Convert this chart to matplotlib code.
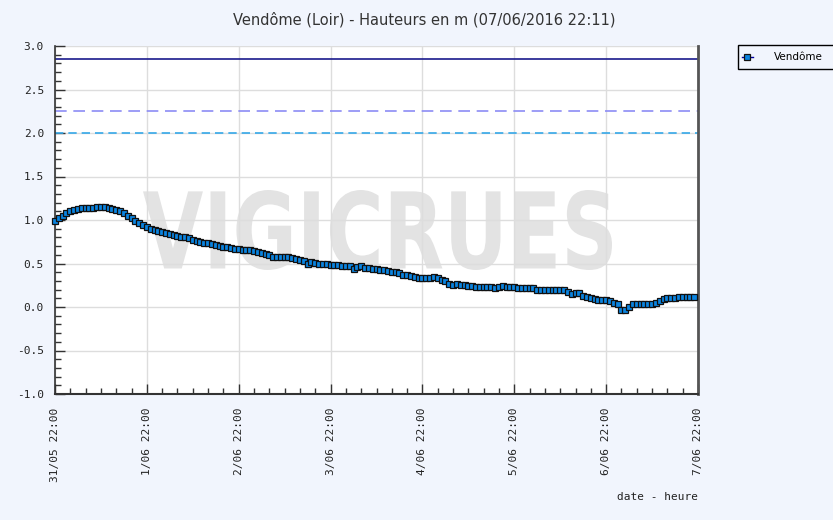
import matplotlib
matplotlib.use("Agg")
import matplotlib.pyplot as plt
import numpy as np
from matplotlib.textpath import TextPath
from matplotlib.patches import PathPatch, Rectangle
from matplotlib.font_manager import FontProperties
from matplotlib.transforms import Affine2D
from matplotlib.ticker import MultipleLocator, FixedLocator

# ---- data (hourly heights, m, starting 31/05 22:00) ----
heights = [
    0.99, 1.02, 1.05, 1.08, 1.10, 1.12, 1.13, 1.14, 1.14, 1.14,
    1.14, 1.15, 1.15, 1.15, 1.14, 1.13, 1.11, 1.10, 1.08, 1.05,
    1.02, 0.99, 0.96, 0.94, 0.92, 0.90, 0.88, 0.87, 0.86, 0.85,
    0.84, 0.83, 0.82, 0.81, 0.80, 0.79, 0.77, 0.76, 0.75, 0.74,
    0.73, 0.72, 0.71, 0.70, 0.69, 0.69, 0.68, 0.67, 0.67, 0.66,
    0.66, 0.65, 0.64, 0.63, 0.62, 0.61, 0.60, 0.58, 0.58, 0.58,
    0.57, 0.57, 0.56, 0.55, 0.54, 0.53, 0.50, 0.52, 0.51, 0.50,
    0.49, 0.49, 0.48, 0.48, 0.48, 0.47, 0.47, 0.47, 0.44, 0.46,
    0.47, 0.45, 0.45, 0.44, 0.44, 0.43, 0.42, 0.41, 0.40, 0.40,
    0.39, 0.37, 0.37, 0.36, 0.34, 0.33, 0.33, 0.33, 0.33, 0.34,
    0.33, 0.31, 0.30, 0.26, 0.25, 0.26, 0.25, 0.25, 0.24, 0.24,
    0.23, 0.23, 0.23, 0.23, 0.23, 0.22, 0.23, 0.24, 0.23, 0.23,
    0.23, 0.22, 0.22, 0.22, 0.22, 0.22, 0.20, 0.20, 0.20, 0.20,
    0.19, 0.19, 0.19, 0.19, 0.17, 0.15, 0.16, 0.16, 0.13, 0.12,
    0.10, 0.09, 0.08, 0.08, 0.08, 0.07, 0.05, 0.04, -0.03, -0.03,
    0.00, 0.03, 0.04, 0.04, 0.04, 0.04, 0.04, 0.05, 0.07, 0.09,
    0.10, 0.10, 0.10, 0.11, 0.12, 0.12, 0.12, 0.12,
]
hours = list(range(len(heights)))

thresholds = [2.85, 2.25, 2.0]
threshold_colors = ["#1a1a8c", "#8c8cf5", "#35a8e8"]

day_tick_labels = ["31/05 22:00", "1/06 22:00", "2/06 22:00", "3/06 22:00",
                   "4/06 22:00", "5/06 22:00", "6/06 22:00", "7/06 22:00"]
y_ticks = [-1.0, -0.5, 0.0, 0.5, 1.0, 1.5, 2.0, 2.5, 3.0]

title = "Vendôme (Loir) - Hauteurs en m (07/06/2016 22:11)"
series_name = "Vendôme"

# ---- figure ----
W, H = 833, 520
bg = "#f1f5fd"
fig = plt.figure(figsize=(W / 100, H / 100), dpi=100, facecolor=bg)
ax = fig.add_axes([55 / W, 1 - 394 / H, (698 - 55) / W, (394 - 46) / H])
ax.set_facecolor("white")

ax.set_xlim(0, 168)
ax.set_ylim(-1.0, 3.0)

# watermark
fp = FontProperties(family="DejaVu Sans", weight="bold")
tp = TextPath((0, 0), "VIGICRUES", size=100, prop=fp)
ext = tp.get_extents()
x0, x1, y0, y1 = 143 / W, 612 / W, 1 - 270 / H, 1 - 190 / H
sx = (x1 - x0) / ext.width
sy = (y1 - y0) / ext.height
tr = Affine2D().translate(-ext.x0, -ext.y0).scale(sx, sy).translate(x0, y0) + fig.transFigure
wm = PathPatch(tp, facecolor="#e3e3e3", edgecolor="none", transform=tr, zorder=0.2)
ax.add_patch(wm)

# grid
ax.set_axisbelow(True)
ax.grid(True, which="major", color="#dddddd", linewidth=1.0)

# thresholds
ax.axhline(thresholds[0], color=threshold_colors[0], lw=1.2, zorder=2)
ax.axhline(thresholds[1], color=threshold_colors[1], lw=1.2, ls=(0, (7, 4)), zorder=2)
ax.axhline(thresholds[2], color=threshold_colors[2], lw=1.2, ls=(0, (5, 3)), zorder=2)

# series
ax.plot(hours, heights, color="#0000a0", lw=1.0, marker="s", markersize=4.2,
        markerfacecolor="#0a84e0", markeredgecolor="#111111", markeredgewidth=0.9,
        zorder=3, label=series_name, clip_on=False)

# ticks
ax.xaxis.set_major_locator(FixedLocator([24 * i for i in range(8)]))
ax.xaxis.set_minor_locator(MultipleLocator(4))
ax.set_xticklabels(day_tick_labels, rotation=90, family="DejaVu Sans Mono",
                   fontsize=8, color="#222222")
ax.set_yticks(y_ticks)
ax.set_yticklabels([f"{v:.1f}" for v in y_ticks], family="DejaVu Sans Mono",
                   fontsize=8, color="#222222")
ax.yaxis.set_minor_locator(MultipleLocator(0.1))
ax.tick_params(axis="both", which="major", direction="in", length=7, width=1,
               color="#333333", pad=8)
ax.tick_params(axis="both", which="minor", direction="in", length=4, width=1,
               color="#333333")
ax.tick_params(axis="x", which="major", pad=10)

ax.spines["top"].set_visible(False)
ax.spines["left"].set_color("#333333")
ax.spines["bottom"].set_color("#333333")
ax.spines["right"].set_color("#555555")
ax.spines["right"].set_linewidth(2)
ax.spines["left"].set_linewidth(1.2)
ax.spines["bottom"].set_linewidth(1.5)

# title and axis label
fig.text(424 / W, 1 - 20 / H, title, ha="center", va="center",
         fontsize=10.5, color="#333333", family="DejaVu Sans")
fig.text(698 / W, 1 - 497 / H, "date - heure", ha="right", va="center",
         fontsize=8, color="#222222", family="DejaVu Sans Mono")

# legend box (runs off the right edge like the reference)
fig.patches.append(Rectangle((738 / W, 1 - 69 / H), 110 / W, 24 / H,
                             transform=fig.transFigure, facecolor=bg,
                             edgecolor="black", linewidth=1, zorder=1))
leg = fig.legend(loc="upper left", bbox_to_anchor=(737 / W, 1 - 47 / H),
                 bbox_transform=fig.transFigure, frameon=False,
                 fontsize=7.5, handlelength=1.0, handletextpad=2.0,
                 borderpad=0.5, borderaxespad=0, markerscale=0.9)
leg.set_zorder(2)

fig.savefig("out.png", dpi=100, facecolor=bg)
